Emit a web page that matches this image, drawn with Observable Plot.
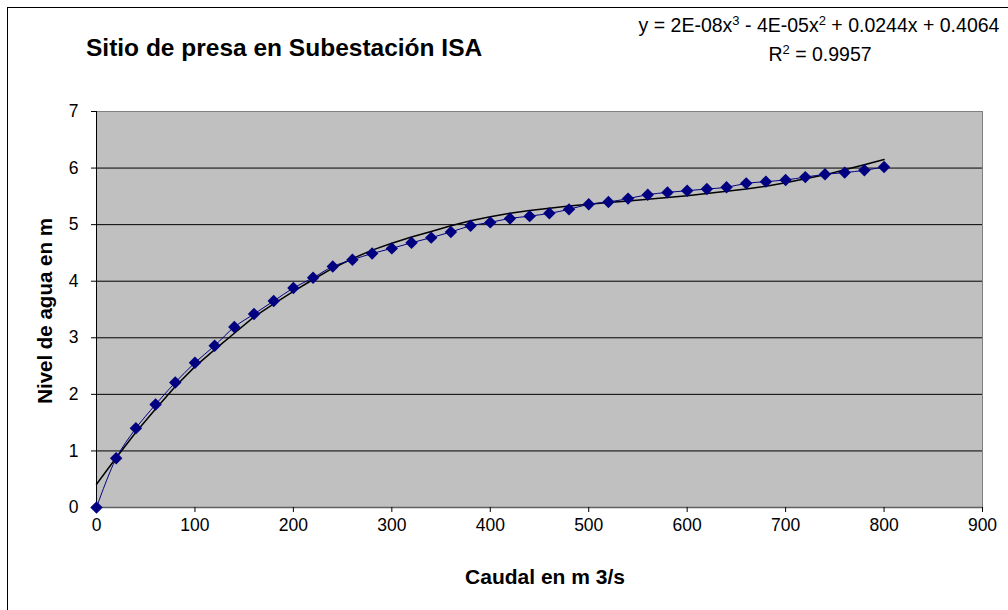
<!DOCTYPE html>
<html>
<head>
<meta charset="utf-8">
<script src="https://cdn.jsdelivr.net/npm/d3@7"></script>
<script src="https://cdn.jsdelivr.net/npm/@observablehq/plot@0.6"></script>
<style>
  html, body { margin: 0; padding: 0; background: #fff; }
  #chart { width: 1008px; height: 610px; overflow: hidden; }
</style>
</head>
<body>
<div id="chart"></div>
<script>
// Caudal (m3/s)
const caudal = [0,20,40,60,80,100,120,140,160,180,200,220,240,260,280,300,320,340,360,380,400,420,440,460,480,500,520,540,560,580,600,620,640,660,680,700,720,740,760,780,800];
// Nivel de agua (m), observed
const nivel = [0,0.87,1.40,1.82,2.21,2.56,2.86,3.19,3.42,3.65,3.88,4.06,4.26,4.38,4.49,4.58,4.68,4.77,4.87,4.98,5.04,5.11,5.15,5.20,5.27,5.36,5.40,5.46,5.53,5.57,5.60,5.63,5.66,5.73,5.76,5.79,5.84,5.89,5.92,5.96,6.02];
// Polynomial trendline as drawn
const tendencia = [0.41,0.88,1.33,1.74,2.14,2.49,2.79,3.08,3.37,3.60,3.82,4.03,4.23,4.40,4.55,4.67,4.78,4.88,4.98,5.07,5.14,5.20,5.25,5.29,5.33,5.36,5.39,5.42,5.45,5.48,5.51,5.55,5.59,5.63,5.68,5.74,5.81,5.88,5.97,6.06,6.15];
const xTicks = [0,100,200,300,400,500,600,700,800,900];
const yTicks = [0,1,2,3,4,5,6,7];
const titulo = "Sitio de presa en Subestación ISA";
const xLabel = "Caudal en m 3/s";
const yLabel = "Nivel de agua en m";
// trendline equation pieces: [text, superscript]
const ecuacion = [["y = 2E-08x", "3"], [" - 4E-05x", "2"], [" + 0.0244x + 0.4064", ""]];
const r2 = "0.9957";

const obs = caudal.map((x, i) => ({x, y: nivel[i]}));
const trend = caudal.map((x, i) => ({x, y: tendencia[i]}));

const font = "'Liberation Sans', Arial, sans-serif";

const plot = Plot.plot({
  width: 1008,
  height: 610,
  marginLeft: 96,
  marginRight: 26,
  marginTop: 111,
  marginBottom: 103,
  style: {fontFamily: font, fontSize: "17.5px", background: "#fff", color: "#000"},
  x: {domain: [0, 900]},
  y: {domain: [0, 7]},
  marks: [
    Plot.frame({fill: "#c0c0c0", stroke: "#808080"}),
    Plot.ruleY(yTicks.slice(1, 7), {stroke: "#000", strokeWidth: 1}),
    Plot.ruleY([0], {stroke: "#606060", strokeWidth: 1.5}),
    Plot.ruleX([0], {stroke: "#000", strokeWidth: 1}),
    Plot.axisX({ticks: xTicks, tickFormat: d => String(d), tickSize: 5, tickPadding: 6, label: null, stroke: "#000", fontSize: 17.5}),
    Plot.axisY({ticks: yTicks, tickFormat: d => String(d), tickSize: 5, tickPadding: 13, label: null, stroke: "#000", fontSize: 17.5}),
    Plot.line(trend, {x: "x", y: "y", stroke: "#000", strokeWidth: 1.5}),
    Plot.line(obs, {x: "x", y: "y", stroke: "#000080", strokeWidth: 1, curve: "catmull-rom"}),
    Plot.dot(obs, {x: "x", y: "y", symbol: "diamond2", r: 5.6, fill: "#000080", stroke: "none"})
  ]
});

document.getElementById("chart").appendChild(plot);

const svg = d3.select(plot);
// outer chart border
svg.append("rect").attr("x", 7.5).attr("y", 7.5).attr("width", 1020).attr("height", 620)
  .attr("fill", "none").attr("stroke", "#000").attr("stroke-width", 1);

svg.append("text").attr("x", 86).attr("y", 56).attr("text-anchor", "start").attr("font-family", font)
  .attr("font-size", 24.5).attr("font-weight", "bold").attr("fill", "#000").text(titulo);

const eq = svg.append("text").attr("x", 819).attr("y", 32).attr("text-anchor", "middle").attr("font-family", font)
  .attr("font-size", 19.5).attr("fill", "#000");
let pending = 0;
ecuacion.forEach(([t, s]) => {
  eq.append("tspan").attr("dy", pending).text(t);
  pending = 0;
  if (s) {
    eq.append("tspan").attr("dy", -7).attr("font-size", 13).text(s);
    pending = 7;
  }
});

const r2t = svg.append("text").attr("x", 820).attr("y", 61).attr("text-anchor", "middle").attr("font-family", font)
  .attr("font-size", 19.5).attr("fill", "#000");
r2t.append("tspan").text("R");
r2t.append("tspan").attr("dy", -7).attr("font-size", 13).text("2");
r2t.append("tspan").attr("dy", 7).text(" = " + r2);

svg.append("text").attr("x", 545).attr("y", 584).attr("text-anchor", "middle").attr("font-family", font)
  .attr("font-size", 21).attr("font-weight", "bold").attr("fill", "#000").text(xLabel);

svg.append("text").attr("transform", "translate(52,311) rotate(-90)").attr("text-anchor", "middle").attr("font-family", font)
  .attr("font-size", 20.5).attr("font-weight", "bold").attr("fill", "#000").text(yLabel);
</script>
</body>
</html>
